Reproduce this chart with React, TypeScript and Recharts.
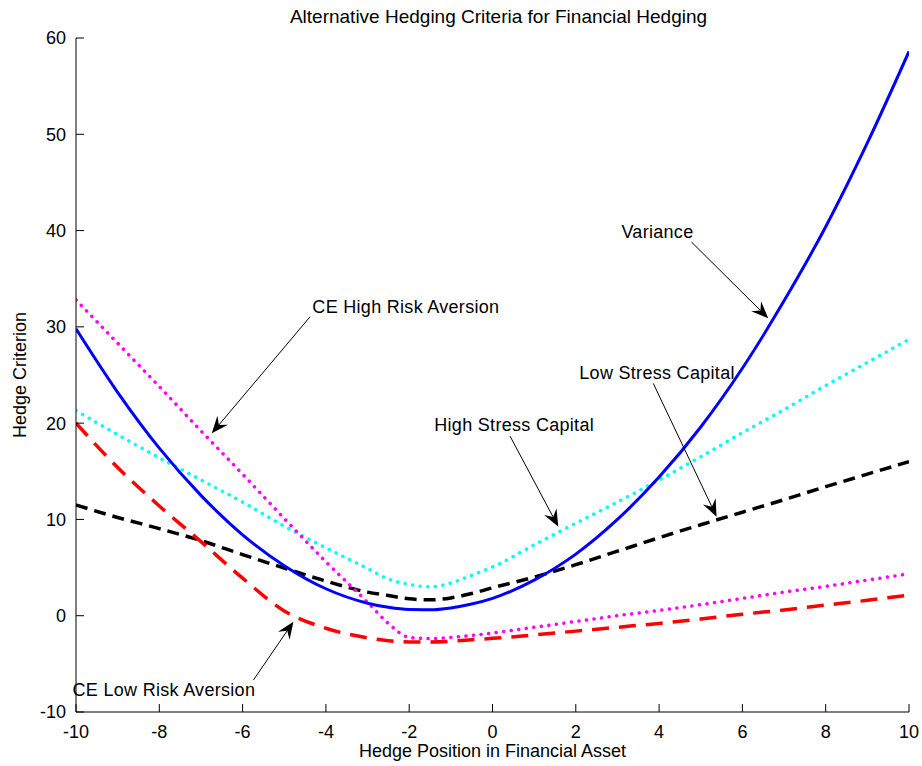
import React from 'react';
import { LineChart, Line, XAxis, YAxis, ReferenceLine, ReferenceDot } from 'recharts';

const hedgePositions = [-10, -9, -8, -7, -6, -5, -4, -3, -2.5, -2, -1.5, -1, -0.5, 0, 1, 2, 3, 4, 5, 6, 7, 8, 9, 10];
const varianceValues = [29.8, 23.2, 17.4, 12.5, 8.4, 5.2, 2.8, 1.3, 0.87, 0.64, 0.62, 0.81, 1.21, 1.8, 3.7, 6.4, 10.0, 14.4, 19.6, 25.7, 32.7, 40.4, 49.1, 58.6];
const ceHighValues = [32.8, 28.3, 23.8, 19.2, 14.7, 10.1, 5.6, 1.4, -0.8, -2.25, -2.38, -2.25, -2.05, -1.8, -1.2, -0.6, 0.0, 0.55, 1.15, 1.8, 2.45, 3.05, 3.7, 4.35];
const ceLowValues = [20.0, 15.4, 11.4, 7.7, 3.9, 0.5, -1.3, -2.3, -2.6, -2.72, -2.72, -2.65, -2.5, -2.35, -2.0, -1.6, -1.2, -0.8, -0.35, 0.15, 0.6, 1.1, 1.6, 2.15];
const highStressValues = [21.3, 18.8, 16.4, 14.1, 11.8, 9.3, 7.05, 4.9, 3.8, 3.25, 3.0, 3.4, 4.2, 5.05, 7.35, 9.6, 11.8, 14.1, 16.5, 19.0, 21.4, 23.9, 26.3, 28.7];
const lowStressValues = [11.5, 10.2, 9.05, 7.8, 6.35, 4.95, 3.6, 2.45, 2.1, 1.75, 1.65, 1.85, 2.3, 2.9, 4.0, 5.3, 6.7, 8.1, 9.45, 10.75, 12.05, 13.4, 14.7, 16.0];

const xTicks = [-10, -8, -6, -4, -2, 0, 2, 4, 6, 8, 10];
const yTicks = [-10, 0, 10, 20, 30, 40, 50, 60];

const annotationTexts = ['Variance', 'CE High Risk Aversion', 'High Stress Capital', 'Low Stress Capital', 'CE Low Risk Aversion'];
const annotationTextAt = [[3.96, 39.9], [-2.08, 32.1], [0.52, 19.8], [3.95, 25.2], [-7.89, -7.72]];
const annotationFrom = [[4.78, 38.8], [-4.38, 31.05], [0.42, 18.66], [3.86, 24.13], [-5.74, -6.68]];
const annotationTo = [[6.62, 30.9], [-6.74, 18.94], [1.58, 9.24], [5.38, 10.28], [-4.78, -0.62]];

const data = hedgePositions.map((x, i) => ({
  x,
  variance: varianceValues[i],
  ceHigh: ceHighValues[i],
  ceLow: ceLowValues[i],
  highStress: highStressValues[i],
  lowStress: lowStressValues[i],
}));

const FONT = '"Liberation Sans", Arial, Helvetica, sans-serif';

function ArrowShape(props: any) {
  const { x1, y1, x2, y2 } = props;
  const dx = x2 - x1;
  const dy = y2 - y1;
  const len = Math.hypot(dx, dy) || 1;
  const ux = dx / len;
  const uy = dy / len;
  const L = 17;
  const W = 7;
  const N = 11;
  const bx = x2 - ux * L;
  const by = y2 - uy * L;
  const nx = -uy;
  const ny = ux;
  const pts = [
    [x2, y2],
    [bx + nx * W, by + ny * W],
    [x2 - ux * N, y2 - uy * N],
    [bx - nx * W, by - ny * W],
  ]
    .map((p) => `${p[0]},${p[1]}`)
    .join(' ');
  return (
    <g>
      <line x1={x1} y1={y1} x2={x2 - ux * N} y2={y2 - uy * N} stroke="#000" strokeWidth={1} />
      <polygon points={pts} fill="#000" stroke="none" />
    </g>
  );
}

function makeTextShape(text: string) {
  return (props: any) => (
    <text
      x={props.cx}
      y={props.cy}
      textAnchor="middle"
      dominantBaseline="central"
      fontFamily={FONT}
      fontSize={18}
      letterSpacing={0.3}
      fill="#000"
    >
      {text}
    </text>
  );
}

const tickStyle = { fontFamily: FONT, fontSize: 18, fill: '#000' };

export default function App() {
  return (
    <div style={{ position: 'absolute', left: 0, top: 0, width: 922, height: 766, background: '#fff' }}>
      <div
        style={{
          position: 'absolute',
          left: 82,
          top: 6,
          width: 833,
          textAlign: 'center',
          fontFamily: FONT,
          fontSize: 19,
          lineHeight: '22px',
          color: '#000',
        }}
      >
        Alternative Hedging Criteria for Financial Hedging
      </div>
      <LineChart width={922} height={766} data={data} margin={{ top: 38, right: 13, bottom: 0, left: 0 }}>
        <XAxis
          dataKey="x"
          type="number"
          domain={[-10, 10]}
          ticks={xTicks}
          interval={0}
          height={54}
          tickSize={-8}
          tickMargin={21}
          axisLine={{ stroke: '#000', strokeWidth: 1 }}
          tickLine={{ stroke: '#000', strokeWidth: 1 }}
          tick={tickStyle}
          allowDataOverflow
          label={{
            content: (p: any) => {
              const vb = p.viewBox || {};
              return (
                <text
                  x={vb.x + vb.width / 2}
                  y={vb.y + 39}
                  textAnchor="middle"
                  dominantBaseline="central"
                  fontFamily={FONT}
                  fontSize={18}
                  fill="#000"
                >
                  Hedge Position in Financial Asset
                </text>
              );
            },
          }}
        />
        <XAxis
          xAxisId="top"
          orientation="top"
          dataKey="x"
          type="number"
          domain={[-10, 10]}
          ticks={xTicks}
          interval={0}
          height={0}
          tickSize={-8}
          tick={false}
          axisLine={{ stroke: '#000', strokeWidth: 1 }}
          tickLine={{ stroke: '#000', strokeWidth: 1 }}
        />
        <YAxis
          type="number"
          domain={[-10, 60]}
          ticks={yTicks}
          interval={0}
          width={76}
          tickSize={-8}
          tickMargin={18}
          axisLine={{ stroke: '#000', strokeWidth: 1 }}
          tickLine={{ stroke: '#000', strokeWidth: 1 }}
          tick={tickStyle}
          allowDataOverflow
          label={{
            content: (p: any) => {
              const vb = p.viewBox || {};
              const cx = vb.x + 20;
              const cy = vb.y + vb.height / 2;
              return (
                <text
                  x={cx}
                  y={cy}
                  transform={`rotate(-90 ${cx} ${cy})`}
                  textAnchor="middle"
                  dominantBaseline="central"
                  fontFamily={FONT}
                  fontSize={18}
                  fill="#000"
                >
                  Hedge Criterion
                </text>
              );
            },
          }}
        />
        <YAxis
          yAxisId="right"
          orientation="right"
          type="number"
          domain={[-10, 60]}
          ticks={yTicks}
          interval={0}
          width={0}
          tickSize={-8}
          tick={false}
          axisLine={{ stroke: '#000', strokeWidth: 1 }}
          tickLine={{ stroke: '#000', strokeWidth: 1 }}
        />
        <Line
          dataKey="highStress"
          type="monotone"
          stroke="#00FFFF"
          strokeWidth={3.5}
          strokeDasharray="0.1 7.5"
          strokeLinecap="round"
          dot={false}
          activeDot={false}
          isAnimationActive={false}
        />
        <Line
          dataKey="lowStress"
          type="monotone"
          stroke="#000000"
          strokeWidth={3.5}
          strokeDasharray="12 7"
          dot={false}
          activeDot={false}
          isAnimationActive={false}
        />
        <Line
          dataKey="ceLow"
          type="monotone"
          stroke="#FF0000"
          strokeWidth={3.5}
          strokeDasharray="17 10"
          dot={false}
          activeDot={false}
          isAnimationActive={false}
        />
        <Line
          dataKey="ceHigh"
          type="monotone"
          stroke="#FF00FF"
          strokeWidth={3.5}
          strokeDasharray="0.1 7.5"
          strokeLinecap="round"
          dot={false}
          activeDot={false}
          isAnimationActive={false}
        />
        <Line
          dataKey="variance"
          type="monotone"
          stroke="#0000FF"
          strokeWidth={3}
          dot={false}
          activeDot={false}
          isAnimationActive={false}
        />
        {annotationTexts.map((t, i) => (
          <ReferenceLine
            key={`arrow-${i}`}
            segment={[
              { x: annotationFrom[i][0], y: annotationFrom[i][1] },
              { x: annotationTo[i][0], y: annotationTo[i][1] },
            ]}
            ifOverflow="visible"
            shape={(p: any) => <ArrowShape {...p} />}
          />
        ))}
        {annotationTexts.map((t, i) => (
          <ReferenceDot
            key={`text-${i}`}
            x={annotationTextAt[i][0]}
            y={annotationTextAt[i][1]}
            r={0}
            ifOverflow="visible"
            shape={makeTextShape(t)}
          />
        ))}
      </LineChart>
    </div>
  );
}
